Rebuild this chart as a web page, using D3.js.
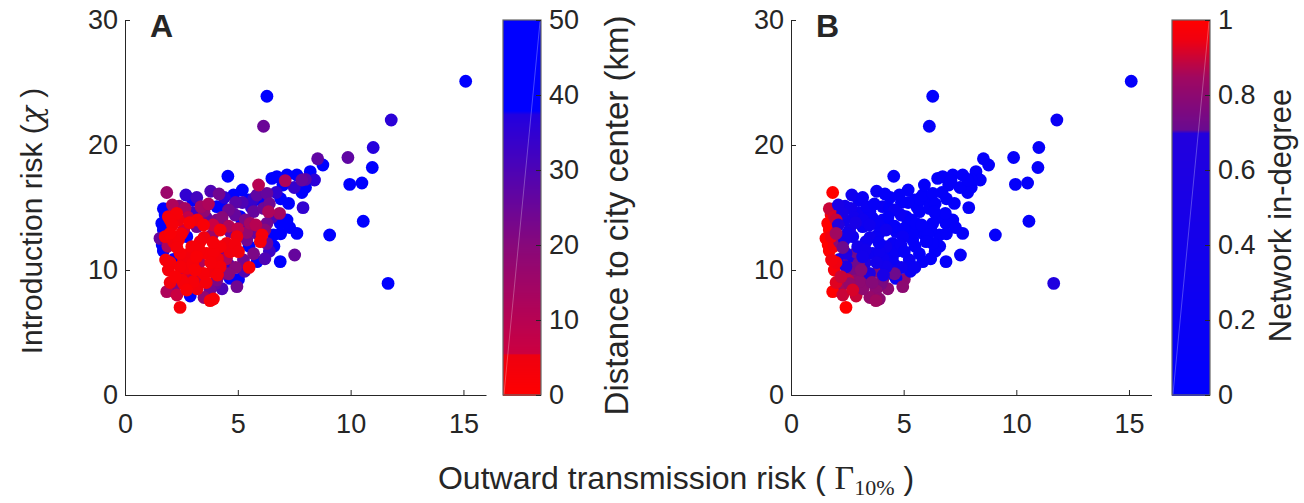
<!DOCTYPE html>
<html>
<head>
<meta charset="utf-8">
<script src="https://cdn.jsdelivr.net/npm/d3@7"></script>
<style>
  body { margin: 0; background: #fff; }
  text { font-family: "Liberation Sans", Arial, sans-serif; fill: #262626; }
</style>
</head>
<body>
<div id="okvir"></div>
<script>
// values (one entry per city area)
const outwardRisk = [15.1,6.29,6.14,11.8,11.0,10.96,9.88,8.54,8.77,8.21,9.96,10.5,7.84,7.89,10.56,9.07,11.66,7.62,7.84,7.99,
  7.52,1.85,3.18,4.17,4.81,5.47,5.85,6.29,3.70,3.37,4.56,5.92,6.51,6.73,7.10,7.18,7.62,1.78,1.92,2.29,
  2.66,2.86,4.07,4.36,4.59,4.88,5.10,5.33,5.70,6.14,6.36,6.85,7.18,7.25,1.63,2.0,2.37,3.48,3.18,4.07,
  4.22,4.66,4.96,5.18,5.55,5.85,6.07,6.29,6.58,6.88,1.55,1.78,2.0,2.15,2.37,2.74,2.96,3.33,3.77,4.22,
  4.51,4.88,5.40,6.0,6.29,1.70,2.15,2.44,2.74,3.18,3.62,3.92,4.36,4.66,5.03,5.25,5.85,6.88,1.92,2.22,
  2.44,2.74,3.11,3.48,3.85,4.22,4.36,4.66,5.03,5.50,1.85,2.22,2.52,2.74,3.03,3.40,3.77,4.07,4.96,2.44,
  2.89,3.77,3.92,3.0,3.6,4.4,5.6,6.0,6.7,5.2,4.9,3.9,2.6,4.6,5.5,6.4,3.3,2.9,4.0,1.7,
  1.9,2.1,6.9,7.5,2.0,2.3,2.6,2.9,3.3,3.5,3.9,4.1,4.5,4.9,5.3,5.7,6.2,6.6,2.5,2.8,
  3.2,3.5,3.9,4.3,4.6,5.0,5.4,5.8,6.2,6.5,6.9,7.3,5.7,6.4,4.4,3.8,2.4,1.7,2.1,1.65,
  1.8,2.0,2.3,2.6,3.2,3.5,3.6,4.3,4.6,3.0,3.8,2.6,3.1,4.1,5.2,7.0,8.0,8.4,3.0,2.7];
const introRisk = [25.1,23.9,21.5,22.0,19.8,18.2,19.0,18.9,18.4,17.87,16.85,16.96,16.2,14.99,13.9,12.8,8.93,12.93,17.2,17.25,
  11.2,16.2,15.8,16.08,16.0,15.6,16.0,16.13,15.28,15.07,17.5,16.8,17.33,17.47,17.15,17.6,17.6,14.4,14.27,14.53,
  14.93,13.79,15.07,14.93,14.8,14.4,14.27,14.0,14.67,14.93,14.67,14.53,14.0,15.33,13.73,14.0,14.0,13.6,13.47,14.0,
  13.2,13.07,12.67,13.6,13.73,12.93,12.8,13.73,12.8,13.73,12.53,12.67,12.93,12.27,12.4,12.67,11.87,12.27,12.67,11.87,
  12.13,12.0,12.4,12.27,12.13,11.52,10.85,11.33,11.07,11.07,11.33,11.47,11.07,11.47,11.47,10.8,10.67,10.67,10.0,9.47,
  10.27,10.13,10.0,9.73,9.87,10.27,9.73,9.33,9.25,10.21,8.27,8.67,9.2,8.4,9.07,9.2,8.4,9.2,8.67,7.01,
  7.92,7.55,7.68,14.6,14.2,13.6,15.0,15.6,16.2,16.4,15.4,12.9,13.2,10.4,11.9,11.5,10.6,9.6,8.9,13.2,
  11.9,13.6,15.7,16.6,10.6,11.8,10.8,11.4,11.6,12.6,12.2,10.9,10.9,10.2,9.9,11.3,10.9,11.9,12.9,14.2,
  14.0,14.7,13.6,14.2,13.5,13.3,13.0,13.6,13.2,14.2,12.9,13.4,15.7,15.3,15.8,16.3,15.1,14.9,15.2,12.0,
  10.8,9.0,8.0,8.9,8.5,7.8,9.0,8.5,9.7,10.5,10.6,9.7,9.4,9.6,15.4,16.8,16.6,17.2,15.6,16.0];
const distanceKm = [45,42,25,36,37,45,27,27,45,42,45,45,45,35,45,45,45,45,26,28,
  26,16,32,24,42,40,27,26,12,14,40,10,45,45,12,45,45,44,4,3,
  14,2,42,40,24,26,40,22,26,25,12,14,45,45,44,3,5,2,24,22,
  4,25,5,42,14,26,3,24,42,45,26,3,2,4,3,40,3,4,22,3,
  5,4,24,3,26,44,42,3,4,2,3,3,24,5,4,24,42,45,3,2,
  3,4,2,3,4,3,24,42,44,3,12,22,3,2,3,14,24,22,24,3,
  40,2,3,33,26,40,34,42,35,45,28,16,6,34,40,33,12,15,26,40,
  12,3,45,34,3,3,5,4,3,5,3,4,12,20,30,22,30,40,3,8,
  4,18,6,20,12,8,18,10,20,30,38,45,34,24,36,30,20,38,12,40,
  3,4,6,3,4,18,3,30,20,3,3,8,12,3,30,38,40,36,40,35];
const inDegree = [0.1,0.05,0.1,0.2,0.1,0.1,0.1,0.1,0.1,0.1,0.1,0.1,0.1,0.1,0.1,0.1,0.66,0.1,0.1,0.1,
  0.1,1.0,0.2,0.1,0.1,0.1,0.1,0.1,0.15,0.2,0.1,0.1,0.1,0.1,0.1,0.1,0.1,0.97,0.92,0.5,
  0.4,0.5,0.2,0.1,0.2,0.2,0.1,0.1,0.1,0.1,0.1,0.1,0.1,0.1,1.0,0.9,0.4,0.3,0.2,0.2,
  0.3,0.15,0.2,0.1,0.1,0.1,0.1,0.1,0.1,0.1,1.0,0.95,0.85,0.8,0.5,0.3,0.4,0.3,0.2,0.3,
  0.2,0.2,0.1,0.1,0.1,1.0,0.6,0.6,0.5,0.4,0.3,0.3,0.2,0.2,0.15,0.2,0.1,0.1,0.97,0.9,
  0.6,0.75,0.78,0.6,0.78,0.4,0.3,0.2,0.8,0.2,1.0,0.85,0.9,0.92,0.8,0.78,0.8,0.75,0.8,1.0,
  0.9,0.85,0.8,0.3,0.2,0.1,0.1,0.1,0.1,0.1,0.1,0.2,0.5,0.3,0.1,0.1,0.6,0.8,0.75,1.0,
  0.97,0.7,0.1,0.1,0.95,0.72,0.8,0.72,0.4,0.3,0.2,0.3,0.2,0.3,0.2,0.1,0.1,0.1,0.4,0.4,
  0.3,0.2,0.2,0.1,0.1,0.1,0.1,0.1,0.1,0.1,0.1,0.1,0.1,0.1,0.1,0.2,0.4,0.9,0.5,1.0,
  0.96,0.93,0.9,0.82,0.8,0.82,0.78,0.8,0.72,0.72,0.4,0.8,0.78,0.5,0.1,0.1,0.1,0.1,0.2,0.3];

const xTicks = [0, 5, 10, 15];
const yTicks = [0, 10, 20, 30];
const distTicks = [0, 10, 20, 30, 40, 50];
const degTicks = [0, 0.2, 0.4, 0.6, 0.8, 1];

// colormaps
const distStops = [0, 5.5, 5.6, 20, 37.5, 38, 50];
const distColors = ["#ff0000", "#ee0010", "#cc0040", "#88087a", "#2200e0", "#0000ff", "#0000ff"];
const degStops = [0, 0.7, 0.71, 0.85, 0.95, 1];
const degColors = ["#0000ff", "#2200dd", "#6a0a90", "#a00860", "#f00010", "#ff0000"];

const sirina = 1304, visina = 503;
const vrh = 20, dno = 395;
const pismo = '"Liberation Sans", Arial, sans-serif';

const okvir = d3.select("#okvir").append("svg")
  .attr("width", sirina).attr("height", visina);

const podatci = outwardRisk.map((x, i) => ({
  x: x, y: introRisk[i], dist: distanceKm[i], deg: inDegree[i]
}));
// far points first, so the near (red) ones end up on top
const poredani = d3.sort(podatci, (a, b) => b.dist - a.dist);

const distBoja = d3.scaleLinear().domain(distStops).range(distColors).clamp(true);
const degBoja = d3.scaleLinear().domain(degStops).range(degColors).clamp(true);

function crtajPanel(lijevo, desno, boja, kljuc, slovo) {
  const xSkala = d3.scaleLinear().domain([0, 16]).range([lijevo, desno]);
  const ySkala = d3.scaleLinear().domain([0, 30]).range([dno, vrh]);

  okvir.append("g")
    .selectAll("circle")
    .data(poredani)
    .join("circle")
      .attr("cx", d => xSkala(d.x))
      .attr("cy", d => ySkala(d.y))
      .attr("r", 6.4)
      .attr("fill", d => boja(d[kljuc]));

  const xOs = okvir.append("g")
    .attr("transform", `translate(0,${dno})`)
    .call(d3.axisBottom(xSkala).tickValues(xTicks).tickSizeInner(-5).tickSizeOuter(0).tickPadding(19));
  const yOs = okvir.append("g")
    .attr("transform", `translate(${lijevo},0)`)
    .call(d3.axisLeft(ySkala).tickValues(yTicks).tickSizeInner(-5).tickSizeOuter(0).tickPadding(7));

  [xOs, yOs].forEach(os => {
    os.select(".domain").attr("stroke", "#262626").attr("stroke-width", 1);
    os.selectAll(".tick line").attr("stroke", "#262626");
    os.selectAll(".tick text").attr("fill", "#262626").style("font-size", "27px")
      .style("font-family", pismo);
  });

  okvir.append("text")
    .attr("x", lijevo + 25).attr("y", 37)
    .style("font-size", "32px").style("font-weight", "bold")
    .text(slovo);
}

function crtajSkalu(lijevo, domena, ticks, boja, naslov, naslovX, velicina) {
  const w = 38;
  const ySkala = d3.scaleLinear().domain(domena).range([dno, vrh]);
  const n = 375;
  const koraci = d3.range(n).map(i => domena[0] + (i + 0.5) / n * (domena[1] - domena[0]));
  const korak = (dno - vrh) / n;
  const g = okvir.append("g");
  g.selectAll("rect")
    .data(koraci)
    .join("rect")
      .attr("x", lijevo)
      .attr("y", d => ySkala(d) - korak / 2)
      .attr("width", w)
      .attr("height", korak + 1)
      .attr("shape-rendering", "crispEdges")
      .attr("fill", d => boja(d));
  // faint diagonal seam visible in the original colour bars
  g.append("line")
    .attr("x1", lijevo + 1).attr("y1", dno - 1)
    .attr("x2", lijevo + w - 1).attr("y2", vrh + 2)
    .attr("stroke", "#fff").attr("stroke-opacity", 0.35).attr("stroke-width", 0.8);
  g.append("rect")
    .attr("x", lijevo).attr("y", vrh).attr("width", w).attr("height", dno - vrh)
    .attr("fill", "none").attr("stroke", "#666").attr("stroke-width", 1.2);

  const os = g.append("g")
    .attr("transform", `translate(${lijevo + w},0)`)
    .call(d3.axisRight(ySkala).tickValues(ticks).tickSizeInner(-5).tickSizeOuter(0).tickPadding(8)
      .tickFormat(d3.format("~g")));
  os.select(".domain").remove();
  os.selectAll(".tick line").attr("stroke", "#262626");
  os.selectAll(".tick text").attr("fill", "#262626").style("font-size", "27px")
    .style("font-family", pismo);

  okvir.append("text")
    .attr("transform", `translate(${naslovX},${(vrh + dno) / 2 + 8}) rotate(-90)`)
    .attr("text-anchor", "middle")
    .style("font-size", velicina + "px")
    .text(naslov);
}

crtajPanel(125, 486, distBoja, "dist", "A");
crtajPanel(791, 1151.5, degBoja, "deg", "B");
crtajSkalu(503, [0, 50], distTicks, distBoja, "Distance to city center (km)", 628, 33);
crtajSkalu(1172, [0, 1], degTicks, degBoja, "Network in-degree", 1291, 31);

// y label
const yOznaka = okvir.append("text")
  .attr("transform", `translate(42,221) rotate(-90)`)
  .attr("text-anchor", "middle")
  .style("font-size", "30px");
yOznaka.append("tspan").text("Introduction risk (");
yOznaka.append("tspan")
  .style("font-family", '"DejaVu Serif", "Liberation Serif", serif')
  .style("font-style", "italic").text("\u03C7");
yOznaka.append("tspan").text(" )");

// x label
const xOznaka = okvir.append("text")
  .attr("x", 676).attr("y", 489)
  .attr("text-anchor", "middle")
  .style("font-size", "32px");
xOznaka.append("tspan").text("Outward transmission risk ( ");
xOznaka.append("tspan")
  .style("font-family", '"Liberation Serif", "DejaVu Serif", serif')
  .style("font-size", "34px").text("\u0393");
xOznaka.append("tspan")
  .style("font-family", '"Liberation Serif", "DejaVu Serif", serif')
  .style("font-size", "22px").attr("dy", 6).text("10%");
xOznaka.append("tspan").attr("dy", -6).text(" )");
</script>
</body>
</html>
